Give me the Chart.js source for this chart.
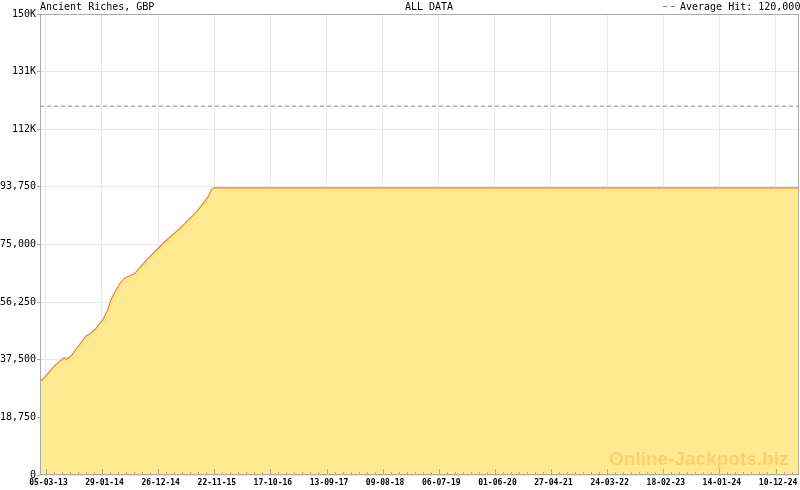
<!DOCTYPE html>
<html><head><meta charset="utf-8">
<script src="https://cdn.jsdelivr.net/npm/chart.js@4/dist/chart.umd.min.js"></script>
<style>html,body{margin:0;padding:0;background:#fff;}canvas{display:block;}</style>
</head><body>
<canvas id="c" width="800" height="490"></canvas>
<script>
const chartTitle = 'Ancient Riches, GBP';
const rangeLabel = 'ALL DATA';
const averageLabel = 'Average Hit: 120,000';
const averageHit = 120000;
const watermark = 'Online-Jackpots.biz';

const dates = ['2013-01-29','2013-03-05','2013-04-23','2013-05-22','2013-06-21','2013-07-07','2013-07-30',
  '2013-09-17','2013-10-27','2013-11-25','2013-12-25','2014-02-02','2014-03-04','2014-03-23','2014-04-11',
  '2014-05-15','2014-06-14','2014-07-23','2014-08-11','2014-10-19','2015-01-25','2015-05-04','2015-08-10',
  '2015-09-18','2015-10-17','2015-11-06','2015-11-20','2025-04-24'];
const values = [30360,32210,35470,36870,38170,37650,38720,
  42300,45230,46110,47740,50440,53690,56950,59130,
  62380,64200,65080,65630,69960,75400,80280,85680,
  88410,90560,92970,93450,93450];

const xTickLabels = ['05-03-13','29-01-14','26-12-14','22-11-15','17-10-16','13-09-17','09-08-18',
  '06-07-19','01-06-20','27-04-21','24-03-22','18-02-23','14-01-24','10-12-24'];
const yTickLabels = ['0','18,750','37,500','56,250','75,000','93,750','112K','131K','150K'];
const yStep = 18750;
const yMax = 150000;
const minorPerMajor = 7;

function isoDay(s){ const [y,m,d]=s.split('-').map(Number); return Date.UTC(y,m-1,d)/864e5; }
function dmyDay(s){ const [d,m,y]=s.split('-').map(Number); return Date.UTC(2000+y,m-1,d)/864e5; }

const points = dates.map((d,i)=>({x:isoDay(d), y:values[i]}));
const xTickDays = xTickLabels.map(dmyDay);
const xMin = points[0].x, xMax = points[points.length-1].x;

const decor = {
  id:'decor',
  afterDraw(chart){
    const {ctx, chartArea:a, scales:{x}} = chart;
    ctx.save();
    ctx.strokeStyle = '#aaaaaa'; ctx.lineWidth = 1;
    ctx.strokeRect(Math.round(a.left)+0.5, Math.round(a.top)+0.5, Math.round(a.right-a.left)-1, Math.round(a.bottom-a.top)-1);
    const step = (xTickDays[1]-xTickDays[0])/minorPerMajor;
    ctx.beginPath();
    for (let k=0;k<xTickDays.length;k++){
      for (let j=0;j<minorPerMajor;j++){
        const d = xTickDays[k]+j*step;
        if (d<xMin||d>xMax) continue;
        const px = Math.round(x.getPixelForValue(d))+0.5;
        const h = j===0?6:3;
        ctx.moveTo(px, Math.round(a.bottom)); ctx.lineTo(px, Math.round(a.bottom)-h);
      }
    }
    ctx.stroke();
    ctx.fillStyle = '#000';
    ctx.font = '10px "DejaVu Sans Mono"';
    ctx.textBaseline = 'alphabetic';
    ctx.textAlign = 'left';
    ctx.fillText(chartTitle, 40, 10);
    ctx.textAlign = 'center';
    ctx.fillText(rangeLabel, 429, 10);
    ctx.textAlign = 'left';
    ctx.fillText(averageLabel, 680, 10);
    ctx.strokeStyle = '#5f86ab';
    ctx.beginPath();
    ctx.moveTo(663,6.5); ctx.lineTo(667,6.5);
    ctx.moveTo(671,6.5); ctx.lineTo(675,6.5);
    ctx.stroke();
    ctx.restore();
  },
  afterDatasetsDraw(chart){
    const {ctx} = chart;
    ctx.save();
    ctx.fillStyle = '#ffcf6e';
    ctx.font = 'bold 19px "Liberation Sans"';
    ctx.textAlign = 'left';
    ctx.textBaseline = 'alphabetic';
    ctx.fillText(watermark, 609, 465);
    ctx.restore();
  }
};

new Chart(document.getElementById('c').getContext('2d'), {
  type:'line',
  data:{ datasets:[
    { data:points, borderColor:'#ff8400', borderWidth:1.2, backgroundColor:'#ffea92', fill:'origin', pointRadius:0, tension:0, order:2 },
    { data:[{x:xMin,y:averageHit},{x:xMax,y:averageHit}], borderColor:'#7d8a97', borderWidth:1, borderDash:[4,3], pointRadius:0, fill:false, order:1 }
  ]},
  options:{
    responsive:false, animation:false, devicePixelRatio:1,
    layout:{padding:{top:14,right:1.5,left:0,bottom:0}},
    plugins:{legend:{display:false}, tooltip:{enabled:false}},
    scales:{
      x:{ type:'linear', min:xMin, max:xMax,
        afterBuildTicks:s=>{ s.ticks = xTickDays.map(v=>({value:v})); },
        afterFit:s=>{ s.height = 15; },
        grid:{ color:'#e8e8e8', drawTicks:false },
        border:{ display:false },
        ticks:{ autoSkip:false, maxRotation:0, padding:3, labelOffset:2.5, color:'#000',
          font:{family:'DejaVu Sans Mono', size:8, weight:'bold'},
          callback:(v,i)=>xTickLabels[i] } },
      y:{ min:0, max:yMax,
        afterBuildTicks:s=>{ s.ticks = yTickLabels.map((_,i)=>({value:i*yStep})); },
        afterFit:s=>{ s.width = 40; },
        grid:{ color:'#e8e8e8', tickLength:3, tickColor:'#aaaaaa' },
        border:{ display:false },
        ticks:{ padding:1, color:'#000', font:{family:'DejaVu Sans Mono', size:10},
          callback:(v,i)=>yTickLabels[i] } }
    }
  },
  plugins:[decor]
});
</script>
</body></html>
